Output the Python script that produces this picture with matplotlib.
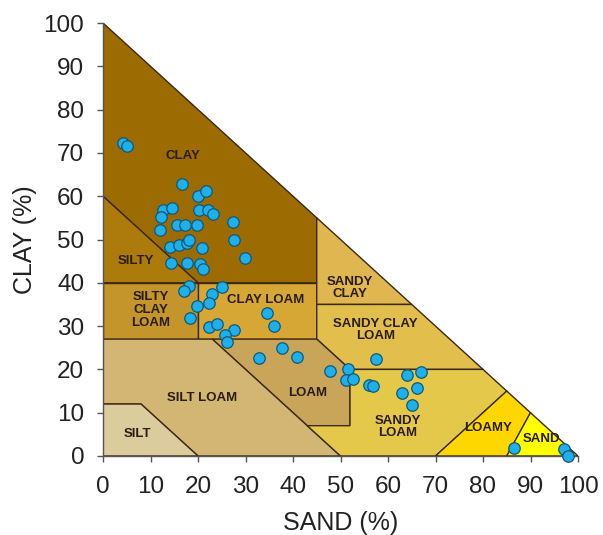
import matplotlib
matplotlib.use("Agg")
import matplotlib.pyplot as plt
from matplotlib.patches import Polygon

plt.rcParams['font.family'] = ['Liberation Sans', 'DejaVu Sans']

# USDA texture classes as (sand %, clay %) polygons
class_names = ["CLAY", "SILTY CLAY", "SILTY CLAY LOAM", "CLAY LOAM", "SANDY CLAY",
               "SANDY CLAY LOAM", "LOAM", "SILT LOAM", "SILT", "SANDY LOAM",
               "LOAMY SAND", "SAND"]
class_vertices = [
    [(0, 100), (45, 55), (45, 40), (20, 40), (0, 60)],
    [(0, 60), (20, 40), (0, 40)],
    [(0, 40), (20, 40), (20, 27), (0, 27)],
    [(20, 40), (45, 40), (45, 27), (20, 27)],
    [(45, 55), (65, 35), (45, 35)],
    [(45, 35), (65, 35), (80, 20), (52, 20), (45, 27)],
    [(23, 27), (45, 27), (52, 20), (52, 7), (43, 7)],
    [(0, 27), (23, 27), (50, 0), (20, 0), (8, 12), (0, 12)],
    [(0, 12), (8, 12), (20, 0), (0, 0)],
    [(43, 7), (52, 7), (52, 20), (80, 20), (85, 15), (70, 0), (50, 0)],
    [(70, 0), (85, 15), (90, 10), (85, 0)],
    [(85, 0), (90, 10), (100, 0)],
]
class_colors = ["#9C6B02", "#AD7B0B", "#C4952A", "#D7A735", "#E0B650",
                "#E2BE4C", "#C9A55A", "#D3B673", "#DCCB9C", "#E4C84A",
                "#FFD700", "#FFFF00"]

# Label text and its anchor in (sand %, clay %)
label_texts = ["CLAY", "SILTY", "SILTY\nCLAY\nLOAM", "CLAY LOAM", "SANDY\nCLAY",
               "SANDY CLAY\nLOAM", "LOAM", "SILT LOAM", "SILT", "SANDY\nLOAM",
               "LOAMY", "SAND"]
label_sand = [16.8, 6.9, 10.1, 34.3, 52.0, 57.3, 43.0, 20.8, 7.2, 62.1, 81.0, 92.3]
label_clay = [69.3, 45.0, 33.7, 36.0, 38.8, 29.1, 14.5, 13.4, 5.1, 6.7, 6.5, 4.0]

# Sample measurements
sand = [4.3, 5.0, 16.6, 19.9, 21.7, 12.7, 14.5, 12.2, 20.3, 22.2, 23.2, 27.4,
        12.0, 15.5, 17.2, 19.7, 27.6, 14.0, 16.1, 17.7, 18.2, 20.8, 29.9, 14.3,
        17.7, 20.4, 21.1, 18.1, 17.1, 25.1, 22.9, 22.4, 19.7, 18.3, 22.3, 23.9,
        27.6, 25.7, 26.2, 34.6, 36.0, 37.7, 32.9, 40.9, 47.8, 51.5, 51.1, 52.7,
        57.4, 56.1, 56.8, 64.1, 66.9, 66.0, 62.9, 65.1, 86.6, 97.1, 97.9]
clay = [72.4, 71.7, 62.8, 60.0, 61.1, 56.7, 57.2, 55.3, 56.7, 56.7, 56.0, 54.0,
        52.2, 53.3, 53.4, 53.4, 49.9, 48.3, 48.7, 49.3, 49.9, 48.0, 45.7, 44.6,
        44.5, 44.3, 43.2, 39.3, 38.2, 39.1, 37.3, 35.3, 34.7, 31.9, 29.9, 30.6,
        29.2, 27.9, 26.4, 33.1, 30.0, 24.9, 22.7, 22.8, 19.6, 20.1, 17.6, 17.7,
        22.5, 16.4, 16.2, 18.6, 19.3, 15.6, 14.6, 11.8, 1.9, 1.7, 0.0]

ticks = list(range(0, 101, 10))

fig = plt.figure(figsize=(6.03, 5.35), dpi=100)
ax = fig.add_axes([103 / 603, 79 / 535, 475 / 603, 433 / 535])

for verts, color in zip(class_vertices, class_colors):
    ax.add_patch(Polygon(verts, closed=True, facecolor=color,
                         edgecolor="#3B2A12", linewidth=1.0, zorder=1))

for txt, x, y in zip(label_texts, label_sand, label_clay):
    ax.text(x, y, txt, ha="center", va="center", fontsize=9.5,
            fontweight="bold", color="#2A1D10", linespacing=1.1, zorder=2)

ax.scatter(sand, clay, s=68, facecolor="#1DB0EA", edgecolor="#0F5878",
           linewidth=0.9, zorder=3, clip_on=False)

ax.set_xlim(0, 100)
ax.set_ylim(0, 100)
ax.set_xticks(ticks)
ax.set_yticks(ticks)
ax.spines["top"].set_visible(False)
ax.spines["right"].set_visible(False)
for s in ("left", "bottom"):
    ax.spines[s].set_color("#555555")
    ax.spines[s].set_linewidth(1.0)
ax.tick_params(axis="both", direction="out", length=4.5, width=1.0,
               color="#555555", labelsize=17.5, labelcolor="#222222")
ax.tick_params(axis="y", pad=9)
ax.tick_params(axis="x", pad=10)
ax.set_xlabel("SAND (%)", fontsize=18, color="#222222", labelpad=9)
ax.set_ylabel("CLAY (%)", fontsize=18, color="#222222", labelpad=5)
ax.set_facecolor("white")

fig.savefig("out.png", dpi=100)
